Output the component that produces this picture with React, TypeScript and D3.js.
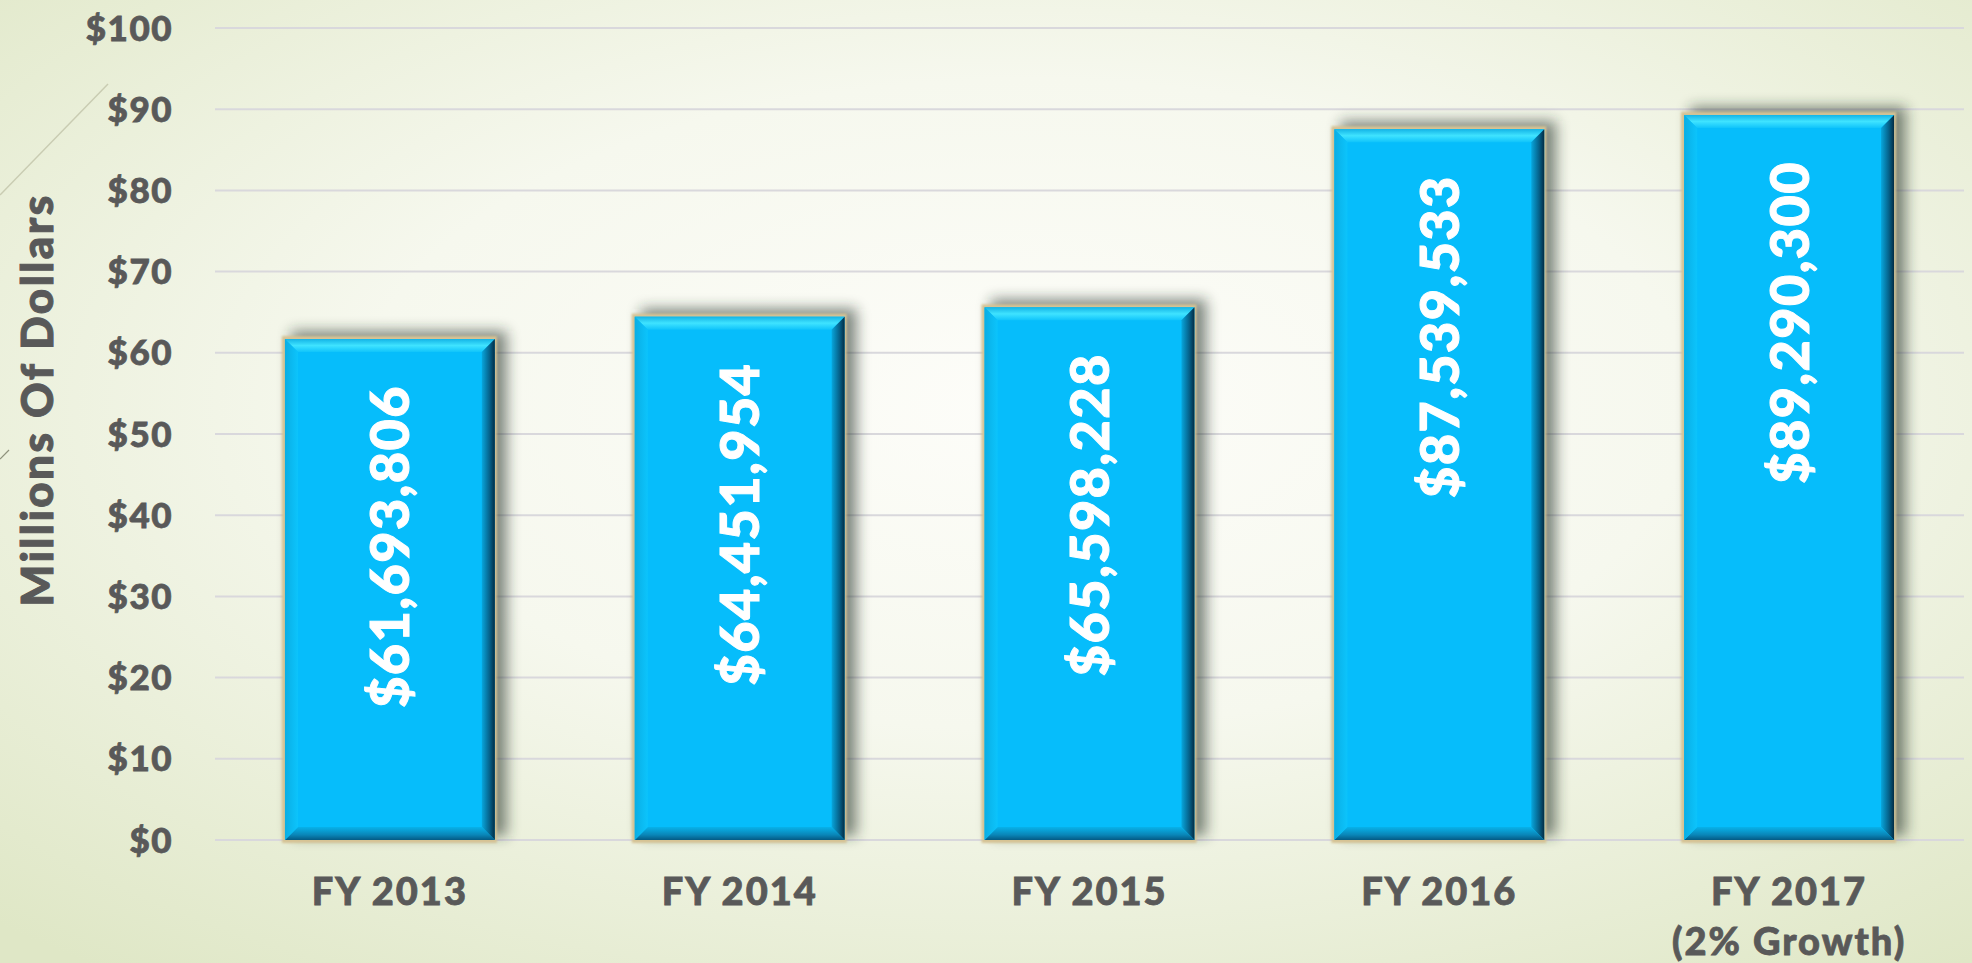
import React from "react";
import * as d3 from "d3";

const categories = ["FY 2013", "FY 2014", "FY 2015", "FY 2016", "FY 2017"];
const categorySubLabels = ["", "", "", "", "(2% Growth)"];
const budgetDollars = [61693806, 64451954, 65598228, 87539533, 89290300];
const yTicks = [0, 10, 20, 30, 40, 50, 60, 70, 80, 90, 100];
const yAxisTitle = "Millions Of Dollars";

const W = 1972;
const H = 963;
const FONT = "Lato, 'Open Sans', sans-serif";
const GREY = "#595959";

export default function App() {
  const x = d3
    .scaleBand<string>()
    .domain(categories)
    .range([215, 1964])
    .paddingInner(0.4)
    .paddingOuter(0.2);
  const y = d3.scaleLinear().domain([0, 100]).range([840, 28]);
  const fmt = d3.format("$,");
  const bw = x.bandwidth();
  const b = 13;

  React.useEffect(() => {
    document.body.style.margin = "0";
    document.body.style.overflow = "hidden";
  }, []);

  return (
    <svg
      width={W}
      height={H}
      style={{ position: "absolute", left: 0, top: 0, display: "block" }}
    >
      <defs>
        <radialGradient id="bg" cx="0.52" cy="0.42" r="0.75">
          <stop offset="0" stopColor="#fdfdf9" />
          <stop offset="0.45" stopColor="#f6f8ee" />
          <stop offset="1" stopColor="#dfe7c6" />
        </radialGradient>
        <filter id="shadow" x="-20%" y="-20%" width="140%" height="140%">
          <feGaussianBlur stdDeviation="7" />
        </filter>
        <filter id="soft" x="-5%" y="-5%" width="110%" height="110%">
          <feGaussianBlur stdDeviation="1.2" />
        </filter>
        <linearGradient id="topBevel" x1="0" y1="0" x2="0" y2="1">
          <stop offset="0" stopColor="#14b4e6" />
          <stop offset="0.5" stopColor="#3fe3ff" />
          <stop offset="1" stopColor="#10c4fb" />
        </linearGradient>
        <linearGradient id="rightBevel" x1="0" y1="0" x2="1" y2="0">
          <stop offset="0" stopColor="#08a6dc" />
          <stop offset="0.6" stopColor="#05618a" />
          <stop offset="1" stopColor="#032c44" />
        </linearGradient>
        <linearGradient id="bottomBevel" x1="0" y1="0" x2="0" y2="1">
          <stop offset="0" stopColor="#07b2ea" />
          <stop offset="0.6" stopColor="#0a86b8" />
          <stop offset="1" stopColor="#045a84" />
        </linearGradient>
        <linearGradient id="leftBevel" x1="0" y1="0" x2="1" y2="0">
          <stop offset="0" stopColor="#0aaee4" />
          <stop offset="1" stopColor="#0cc4fc" />
        </linearGradient>
      </defs>

      <rect x={0} y={0} width={W} height={H} fill="url(#bg)" />

      {/* decorative theme lines */}
      <line x1={0} y1={195} x2={108} y2={84} stroke="#c9ccb2" strokeWidth={1.5} />
      <line x1={0} y1={459} x2={9} y2={450} stroke="#8f927c" strokeWidth={1.2} />

      {/* gridlines */}
      {yTicks.map((t) => (
        <line
          key={"g" + t}
          x1={215}
          x2={1964}
          y1={y(t)}
          y2={y(t)}
          stroke="#d9d8dc"
          strokeWidth={2}
        />
      ))}

      {/* y tick labels */}
      {yTicks.map((t) => (
        <text
          key={"t" + t}
          x={173}
          y={y(t)}
          dy="0.36em"
          textAnchor="end"
          fontFamily={FONT}
          fontWeight={900}
          fontSize={35}
          letterSpacing={1.5}
          fill={GREY}
          stroke={GREY}
          strokeWidth={0.8}
        >
          {"$" + t}
        </text>
      ))}

      {/* y axis title */}
      <text
        transform={`translate(53, ${(y(0) + y(100)) / 2 - 34}) rotate(-90)`}
        textAnchor="middle"
        fontFamily={FONT}
        fontWeight={900}
        fontSize={44}
        letterSpacing={2.4}
        fill={GREY}
        stroke={GREY}
        strokeWidth={1}
      >
        {yAxisTitle}
      </text>

      {/* bars */}
      {categories.map((c, i) => {
        const x0 = x(c)!;
        const x1 = x0 + bw;
        const y0 = y(budgetDollars[i] / 1e6);
        const y1 = y(0);
        return (
          <g key={"b" + c}>
            <rect
              x={x0 + 6}
              y={y0 - 8}
              width={bw + 6}
              height={y1 - y0 + 4}
              fill="#1e2a20"
              opacity={0.55}
              filter="url(#shadow)"
            />
            <rect
              x={x0 - 3}
              y={y0 - 3}
              width={bw + 5}
              height={y1 - y0 + 6}
              fill="#d6c394"
              filter="url(#soft)"
            />
            <rect x={x0} y={y0} width={bw} height={y1 - y0} fill="#06bdfb" />
            <polygon
              points={`${x0},${y0} ${x1},${y0} ${x1 - b},${y0 + b} ${x0 + b},${y0 + b}`}
              fill="url(#topBevel)"
            />
            <polygon
              points={`${x1},${y0} ${x1},${y1} ${x1 - b},${y1 - b} ${x1 - b},${y0 + b}`}
              fill="url(#rightBevel)"
            />
            <polygon
              points={`${x0},${y1} ${x1},${y1} ${x1 - b},${y1 - b} ${x0 + b},${y1 - b}`}
              fill="url(#bottomBevel)"
            />
            <polygon
              points={`${x0},${y0} ${x0 + b},${y0 + b} ${x0 + b},${y1 - b} ${x0},${y1}`}
              fill="url(#leftBevel)"
            />
          </g>
        );
      })}

      {/* value labels */}
      {categories.map((c, i) => {
        const cx = x(c)! + bw / 2;
        const top = y(budgetDollars[i] / 1e6) + 46;
        return (
          <text
            key={"v" + c}
            transform={`translate(${cx}, ${top}) rotate(-90)`}
            textAnchor="end"
            dy="0.36em"
            fontFamily={FONT}
            fontWeight={900}
            fontSize={54}
            letterSpacing={1.4}
            fill="#ffffff"
            stroke="#ffffff"
            strokeWidth={1}
          >
            {fmt(budgetDollars[i])}
          </text>
        );
      })}

      {/* category labels */}
      {categories.map((c, i) => (
        <text
          key={"c" + c}
          x={x(c)! + bw / 2}
          y={905}
          textAnchor="middle"
          fontFamily={FONT}
          fontWeight={900}
          fontSize={38}
          letterSpacing={2}
          fill={GREY}
          stroke={GREY}
          strokeWidth={0.8}
        >
          <tspan x={x(c)! + bw / 2}>{c}</tspan>
          {categorySubLabels[i] ? (
            <tspan x={x(c)! + bw / 2} dy={50}>
              {categorySubLabels[i]}
            </tspan>
          ) : null}
        </text>
      ))}
    </svg>
  );
}
